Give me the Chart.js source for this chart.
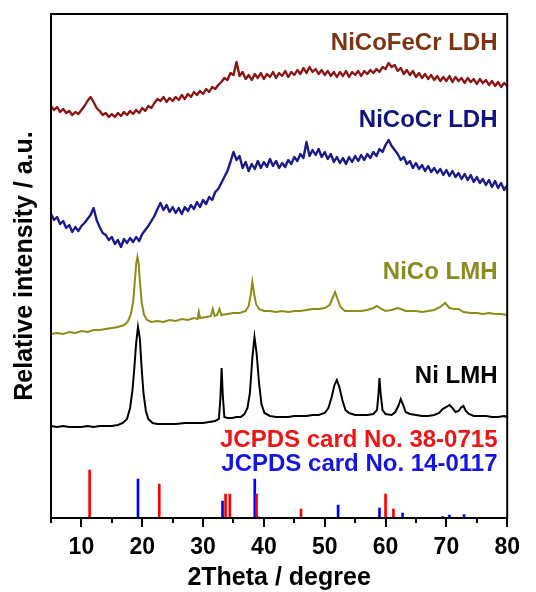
<!DOCTYPE html>
<html>
<head>
<meta charset="utf-8">
<script src="https://cdn.jsdelivr.net/npm/chart.js@4"></script>
<style>
  html, body { margin: 0; padding: 0; background: #fff; }
  #wrap { position: relative; width: 536px; height: 592px; }
</style>
</head>
<body>
<div id="wrap"><canvas id="xrd"></canvas></div>
<script>
const scanStart = 5;
const scanStep = 0.5;

// relative intensity, a.u. (stacked offsets included)
const nicofecrLdh = [
  412,408,411,406,409,405,407,403,406,404,
  408,412,417,421,416,410,407,403,405,401,
  404,401,405,402,406,403,407,404,408,405,
  410,407,412,410,415,419,417,421,416,420,
  417,421,418,423,419,424,421,426,423,427,
  424,429,426,431,429,433,436,440,438,445,
  443,456,442,446,439,443,438,444,440,445,
  439,444,441,446,440,445,442,447,441,446,
  443,448,444,450,445,451,446,449,444,448,
  443,447,442,446,441,446,442,447,441,446,
  443,447,442,447,444,448,445,449,446,451,
  449,455,451,453,447,450,444,448,443,447,
  441,445,440,444,439,443,438,442,437,441,
  437,442,436,441,437,440,435,440,436,439,
  434,439,435,438,433,437,432,436,431,435,
  432
];

const nicocrLdh = [
  304,298,301,294,297,290,293,286,291,287,
  292,295,299,303,310,298,291,285,283,278,
  281,274,278,271,279,275,280,276,281,277,
  284,288,292,297,302,309,315,308,313,306,
  311,305,310,304,311,307,313,309,316,311,
  318,314,321,318,326,329,335,341,347,356,
  366,358,362,350,356,347,354,349,357,350,
  356,351,359,352,357,350,355,351,358,354,
  361,357,364,360,376,362,368,363,369,361,
  366,359,364,356,361,355,360,354,361,356,
  362,357,363,358,364,360,366,362,369,366,
  373,378,372,368,364,358,361,354,357,350,
  355,349,353,347,352,346,350,345,349,343,
  348,342,347,341,345,339,344,338,343,336,
  341,335,339,333,338,331,337,330,335,328,
  333
];

// [2theta, intensity]
const nicoLmh = [
  [5,184],[6,185],[7,184],[8,186],[9,185],[10,187],[11,186],[12,188],[13,188],[14,189],
  [15,190],[16,191],[17,193],[17.6,196],[18.1,203],[18.5,216],[18.8,238],[19.0,254],[19.2,261],
  [19.4,255],[19.6,238],[19.9,216],[20.3,203],[20.8,198],[21.5,196],[22.5,197],[23.5,196],
  [24.5,198],[25.5,197],[26.5,199],[27.5,198],[28.5,200],[29.1,199],[29.3,206],[29.5,200],
  [30.5,201],[31.3,202],[31.6,209],[31.9,202],[32.3,203],[32.7,209],[33.0,203],[34,204],
  [35,205],[36,205],[37,207],[37.5,212],[37.8,222],[38.1,236],[38.4,224],[38.7,214],[39.2,209],
  [40,207],[41,207],[42,206],[43,207],[44,206],[45,207],[46,207],[47,208],[48,209],[49,209],
  [50,210],[50.8,213],[51.3,220],[51.7,226],[52.1,219],[52.6,211],[53.3,207],[54,207],[55,207],
  [56,207],[57,208],[58,210],[58.6,212],[59.3,209],[60,207],[61,208],[62,210],[62.5,209],
  [63.3,207],[64,207],[65,207],[66,206],[67,207],[68,208],[69,211],[69.8,215],[70.5,210],
  [71.2,209],[72,209],[72.8,206],[74,205],[75,205],[76,204],[77,205],[78,204],[79,204],[80,203]
];

const niLmh = [
  [5,92],[6,91],[7,92],[8,91],[9,91],[10,91],[11,92],[12,91],[13,92],[14,92],[15,92],[16,93],
  [16.8,95],[17.5,99],[18.0,110],[18.4,128],[18.7,150],[19.0,175],[19.3,191],[19.6,180],
  [19.9,150],[20.2,125],[20.6,107],[21.0,99],[21.7,95],[22.5,94],[24,94],[25.5,94],[27,95],
  [28.5,95],[30,95],[31,96],[32,97],[32.6,99],[32.85,120],[33.05,150],[33.25,122],[33.5,101],
  [34,100],[34.8,100],[35.5,101],[36.2,101],[36.8,104],[37.3,110],[37.7,125],[38.1,160],
  [38.45,181],[38.8,165],[39.2,135],[39.6,114],[40.1,105],[41,102],[42,101],[43,101],[44,101],
  [45,102],[46,102],[47,102],[48,103],[49,103],[50,105],[50.6,110],[51.1,120],[51.6,133],
  [52.0,138],[52.4,131],[52.9,118],[53.4,108],[54,105],[55,103],[56,103],[57,103],[58,104],
  [58.6,108],[58.85,125],[59.0,140],[59.2,124],[59.5,108],[60,104],[61,103],[61.6,106],
  [62.1,112],[62.5,119],[62.9,113],[63.3,106],[64,104],[65,103],[66,102],[67,102],[68,103],
  [68.8,105],[69.4,109],[70,111],[70.5,113],[71,110],[71.5,106],[72,107],[72.5,111],[72.8,112],
  [73.2,107],[73.7,104],[74.5,102],[75.5,102],[76.5,102],[77.5,101],[78.5,101],[79.5,102],[80,101]
];

// reference cards: line positions and heights
const card380715Pos = [11.35, 22.8, 33.7, 34.4, 38.8, 46.1, 60.0, 61.3];
const card380715Int = [48, 34, 24, 24, 24, 9, 24, 9];
const card140117Pos = [19.3, 33.2, 38.5, 39.2, 52.2, 59.0, 62.8, 69.4, 70.5, 72.9];
const card140117Int = [39, 17, 39, 1, 13, 10, 5, 1.5, 3, 3.5];

const sampleNames = ["NiCoFeCr LDH", "NiCoCr LDH", "NiCo LMH", "Ni LMH"];
const sampleLabelLevels = [475, 398, 246, 142];
const cardNames = ["JCPDS card No. 38-0715", "JCPDS card No. 14-0117"];
const cardLabelLevels = [78, 54];

const FONT = "'Liberation Sans', Arial, sans-serif";

function toPoints(values) {
  return values.map((v, i) => ({ x: scanStart + i * scanStep, y: v }));
}
function toXY(pairs) {
  return pairs.map(p => ({ x: p[0], y: p[1] }));
}
function toSticks(pos, ints) {
  return pos.map((p, i) => ({ x: p, y: ints[i] }));
}

const framePlugin = {
  id: "frame",
  afterDraw(chart) {
    const { ctx, chartArea: a, scales: { x } } = chart;
    ctx.save();
    ctx.strokeStyle = "#000";
    ctx.lineWidth = 2;
    ctx.strokeRect(a.left, a.top, a.right - a.left, a.bottom - a.top);
    for (const t of x.ticks) {
      const px = Math.round(x.getPixelForValue(t.value));
      const len = t.value % 10 === 0 ? 9 : 5;
      ctx.beginPath();
      ctx.moveTo(px, a.bottom);
      ctx.lineTo(px, a.bottom + len);
      ctx.stroke();
    }
    ctx.restore();
  }
};

const labelPlugin = {
  id: "labels",
  afterDatasetsDraw(chart) {
    const { ctx, scales: { x, y } } = chart;
    const right = x.getPixelForValue(78.4);
    ctx.save();
    ctx.textAlign = "right";
    ctx.textBaseline = "middle";
    ctx.font = "bold 24px " + FONT;
    const sampleColors = ["#7c3412", "#131380", "#8b8b22", "#000000"];
    sampleNames.forEach((name, i) => {
      ctx.fillStyle = sampleColors[i];
      ctx.fillText(name, right, y.getPixelForValue(sampleLabelLevels[i]));
    });
    const cardColors = ["#f01414", "#1414e6"];
    cardNames.forEach((name, i) => {
      ctx.fillStyle = cardColors[i];
      ctx.fillText(name, right, y.getPixelForValue(cardLabelLevels[i]));
    });
    ctx.restore();
  }
};

const ldhStyle = { type: "line", pointRadius: 0, borderWidth: 2.4, tension: 0, fill: false, borderJoinStyle: "round" };
const lmhStyle = { type: "line", pointRadius: 0, borderWidth: 2, tension: 0, fill: false };
const stickStyle = { type: "bar", barThickness: 2, borderWidth: 0, grouped: false };

new Chart(document.getElementById("xrd"), {
  type: "line",
  data: {
    datasets: [
      { ...ldhStyle, label: sampleNames[0], data: toPoints(nicofecrLdh), borderColor: "#8b1414" },
      { ...ldhStyle, label: sampleNames[1], data: toPoints(nicocrLdh), borderColor: "#1a1a8c" },
      { ...lmhStyle, label: sampleNames[2], data: toXY(nicoLmh), borderColor: "#8c8c17" },
      { ...lmhStyle, label: sampleNames[3], data: toXY(niLmh), borderColor: "#000000" },
      { ...stickStyle, label: cardNames[0], data: toSticks(card380715Pos, card380715Int), backgroundColor: "#ff0000" },
      { ...stickStyle, label: cardNames[1], data: toSticks(card140117Pos, card140117Int), backgroundColor: "#0000ff" }
    ]
  },
  options: {
    responsive: true,
    maintainAspectRatio: false,
    animation: false,
    layout: { padding: { left: 0, top: 14, right: 18, bottom: 0 } },
    plugins: { legend: { display: false }, tooltip: { enabled: false } },
    scales: {
      x: {
        type: "linear",
        min: 5,
        max: 80,
        offset: false,
        border: { display: false },
        grid: { display: false, drawTicks: false },
        ticks: {
          stepSize: 5,
          padding: 16,
          color: "#000",
          autoSkip: false,
          maxRotation: 0,
          font: { family: FONT, size: 23, weight: "bold" },
          callback: v => (v % 10 === 0 ? v : "")
        },
        title: {
          display: true,
          text: "2Theta / degree",
          color: "#000",
          padding: 0,
          font: { family: FONT, size: 25, weight: "bold", lineHeight: 1.12 }
        },
        afterFit(scale) { scale.height = 74; }
      },
      y: {
        min: 0,
        max: 504,
        border: { display: false },
        grid: { display: false, drawTicks: false },
        ticks: { display: false },
        title: {
          display: true,
          text: "Relative intensity / a.u.",
          color: "#000",
          padding: { top: 10, bottom: 0 },
          font: { family: FONT, size: 25, weight: "bold", lineHeight: 1.2 }
        },
        afterFit(scale) { scale.width = 51; }
      }
    }
  },
  plugins: [framePlugin, labelPlugin]
});
</script>
</body>
</html>
